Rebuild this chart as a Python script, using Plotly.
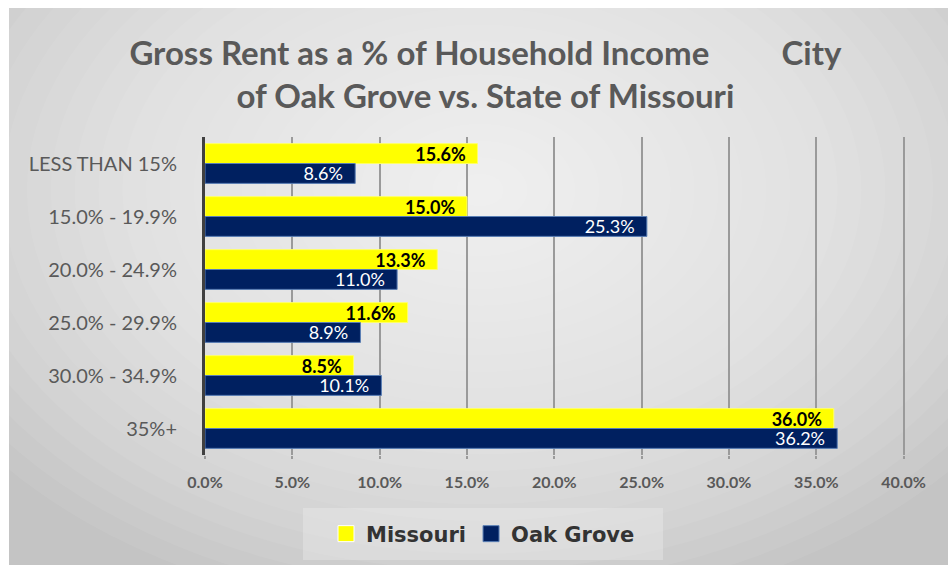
import plotly.graph_objects as go

# Rent burden brackets (top to bottom) and shares of renter households
categories = ["LESS THAN 15%", "15.0% - 19.9%", "20.0% - 24.9%",
              "25.0% - 29.9%", "30.0% - 34.9%", "35%+"]
missouri = [15.6, 15.0, 13.3, 11.6, 8.5, 36.0]
oak_grove = [8.6, 25.3, 11.0, 8.9, 10.1, 36.2]
series_names = ["Missouri", "Oak Grove"]
series_colors = ["#ffff00", "#002060"]
x_ticks = [0, 5, 10, 15, 20, 25, 30, 35, 40]
x_tick_labels = [f"{v:.1f}%" for v in x_ticks]

W, H = 948, 571
ML, MR, MT, MB = 205, 43, 137, 116
PW, PH = W - ML - MR, H - MT - MB


def px_x(X):
    return (X - ML) / PW


def px_y(Y):
    return 1 - (Y - MT) / PH


FONT = "Lato, Roboto, sans-serif"
PAD = "\u00a0\u00a0"

fig = go.Figure()
fig.add_trace(go.Bar(
    y=categories, x=missouri, name=series_names[0], orientation="h",
    marker=dict(color=series_colors[0], line=dict(color="#ffff66", width=1)),
    texttemplate="%{x:.1f}%" + PAD, textposition="inside",
    insidetextanchor="end", constraintext="none", showlegend=False,
    textfont=dict(family=FONT, size=18, color="#000000", weight="bold"),
))
fig.add_trace(go.Bar(
    y=categories, x=oak_grove, name=series_names[1], orientation="h",
    marker=dict(color=series_colors[1], line=dict(color="#5a7fb5", width=1)),
    texttemplate="%{x:.1f}%" + PAD, textposition="inside",
    insidetextanchor="end", constraintext="none", showlegend=False,
    textfont=dict(family=FONT, size=18, color="#ffffff"),
))
# legend keys with larger square swatches
for name, color in zip(series_names, series_colors):
    fig.add_trace(go.Scatter(
        x=[None], y=[None], mode="markers", name=name,
        marker=dict(symbol="square", size=16, color=color,
                    line=dict(color="#ffffff" if color == "#ffff00" else "#5a7fb5", width=1)),
    ))

shapes = []
# chart panel with a soft radial light in the upper middle
shapes.append(dict(type="rect", xref="paper", yref="paper", layer="below",
                   x0=px_x(9), x1=px_x(W), y0=px_y(H - 6), y1=px_y(8),
                   fillcolor="#c4c4c4", line=dict(width=0)))
N = 26
cx, cy, rx, ry = 480, 190, 620, 430
for i in range(N):
    f = 1 - i / N
    shapes.append(dict(type="circle", xref="paper", yref="paper", layer="below",
                       x0=px_x(cx - rx * f), x1=px_x(cx + rx * f),
                       y0=px_y(cy + ry * f), y1=px_y(cy - ry * f),
                       fillcolor="rgba(255,255,255,0.062)", line=dict(width=0)))
# white margins around the panel
shapes.append(dict(type="rect", xref="paper", yref="paper", layer="below",
                   x0=px_x(-50), x1=px_x(W + 50), y0=px_y(8), y1=px_y(-50),
                   fillcolor="#ffffff", line=dict(width=0)))
shapes.append(dict(type="rect", xref="paper", yref="paper", layer="below",
                   x0=px_x(-50), x1=px_x(9), y0=px_y(H + 50), y1=px_y(-50),
                   fillcolor="#ffffff", line=dict(width=0)))
shapes.append(dict(type="rect", xref="paper", yref="paper", layer="below",
                   x0=px_x(-50), x1=px_x(W + 50), y0=px_y(H + 50), y1=px_y(H - 6),
                   fillcolor="#ffffff", line=dict(width=0)))
# lighter legend panel
shapes.append(dict(type="rect", xref="paper", yref="paper", layer="below",
                   x0=px_x(303), x1=px_x(663), y0=px_y(560), y1=px_y(508),
                   fillcolor="rgba(240,240,240,0.35)", line=dict(width=0)))

fig.update_layout(
    width=W, height=H,
    margin=dict(l=ML, r=MR, t=MT, b=MB, pad=0),
    paper_bgcolor="#ffffff", plot_bgcolor="rgba(0,0,0,0)",
    barmode="group", bargap=0.25, bargroupgap=0.0,
    shapes=shapes,
    title=dict(
        text="Gross Rent as a % of Household Income\u00a0\u00a0\u00a0\u00a0\u00a0\u00a0\u00a0\u00a0\u00a0City"
             "<br>of Oak Grove vs. State of Missouri",
        x=0.512, xanchor="center", y=0.886, yanchor="top",
        font=dict(family=FONT, size=33, color="#595959", weight="bold"),
    ),
    xaxis=dict(
        range=[0, 40.08], tickvals=x_ticks, ticktext=x_tick_labels,
        showgrid=True, gridcolor="#9a9a9a", gridwidth=1.5,
        ticks="outside", ticklen=3, tickcolor="#9a9a9a", tickwidth=1.5,
        ticklabelstandoff=10, zeroline=False, showline=False,
        tickfont=dict(family=FONT, size=16, color="#595959", weight="bold"),
    ),
    yaxis=dict(
        autorange="reversed", showline=True, linecolor="#404040", linewidth=3,
        ticks="", ticklabelstandoff=21, showgrid=False,
        tickfont=dict(family=FONT, size=20, color="#595959"),
    ),
    legend=dict(
        orientation="h", x=0.5 + (483 - (ML + PW / 2)) / PW, xanchor="center",
        y=px_y(534), yanchor="middle",
        font=dict(family="DejaVu Sans", size=21, color="#333333", weight="bold"),
        bgcolor="rgba(0,0,0,0)", traceorder="normal",
    ),
)

fig.write_html("out.html")
